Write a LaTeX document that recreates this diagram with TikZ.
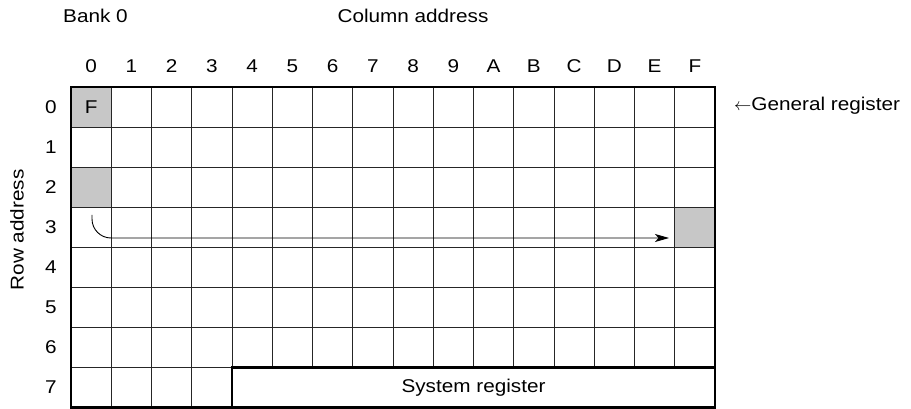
\documentclass[tikz,border=0pt]{standalone}
\usepackage{fontspec}
\setmainfont{Liberation Sans}[FakeStretch=1.12]
\usetikzlibrary{arrows.meta}
\begin{document}
\begin{tikzpicture}[x=1pt,y=1pt,
  lbl/.style={font=\fontsize{18.5}{22}\selectfont, inner sep=0pt},
  shade/.style={fill=black!22, draw=none, inner sep=0pt, minimum width=40.25pt, minimum height=40.06pt, anchor=north west},
  thin/.style={line width=1pt, draw=black!85},
  thick/.style={line width=2.4pt, draw=black},
  arr/.style={line width=0.9pt, -{Stealth[length=14pt,width=8pt,inset=3.5pt]}}]
\useasboundingbox (0,0) rectangle (911,-409);
\def\XL{71}\def\XR{715}\def\YT{87}\def\YB{407.5}
\def\cw{40.25}\def\rh{40.06}
% shaded cells
\node[shade] (c00) at (\XL,-\YT) {};
\node[shade] (c20) at (\XL,-\YT-2*\rh) {};
\node[shade] (c3F) at (\XL+15*\cw,-\YT-3*\rh) {};
\node[lbl] (f) at (c00.center) {F};
% inner vertical lines
\foreach \i in {1,2,3}{
  \draw[thin] (\XL+\i*\cw,-\YT) -- (\XL+\i*\cw,-\YB);
}
\foreach \i in {4,...,15}{
  \draw[thin] (\XL+\i*\cw,-\YT) -- (\XL+\i*\cw,-\YT-7*\rh);
}
% inner horizontal lines
\foreach \j in {1,...,6}{
  \draw[thin] (\XL,-\YT-\j*\rh) -- (\XR,-\YT-\j*\rh);
}
\draw[thin] (\XL,-\YT-7*\rh) -- (\XL+4*\cw,-\YT-7*\rh);
% system register box
\draw[thick] (\XL+4*\cw,-\YT-7*\rh) rectangle (\XR,-\YB);
\node[lbl] (sys) at (\XL+10*\cw+\cw/2-20.125,-\YT-7.5*\rh) {System register};
% outer border
\draw[thick] (\XL,-\YT) rectangle (\XR,-\YB);
% column labels
\foreach \i/\l in {0/0,1/1,2/2,3/3,4/4,5/5,6/6,7/7,8/8,9/9,10/A,11/B,12/C,13/D,14/E,15/F}{
  \node[lbl] (col\l) at (\XL+\i*\cw+\cw/2,-66) {\l};
}
% row labels
\foreach \j in {0,...,7}{
  \node[lbl] (row\j) at (51,-\YT-\j*\rh-\rh/2) {\j};
}
% titles
\node[lbl, anchor=west] (bank) at (63,-16) {Bank 0};
\node[lbl] (coladdr) at (413,-16) {Column address};
\node[lbl, rotate=90] (rowaddr) at (17,-230) {Row address};
\node[lbl, anchor=west] (gen) at (734,-106) {\ensuremath{\leftarrow}General register};
% arrow
\coordinate (astart) at (92,-215);
\coordinate (aend) at (669,-238);
\draw[arr, rounded corners=19pt] (astart) |- (aend);
\end{tikzpicture}
\end{document}
